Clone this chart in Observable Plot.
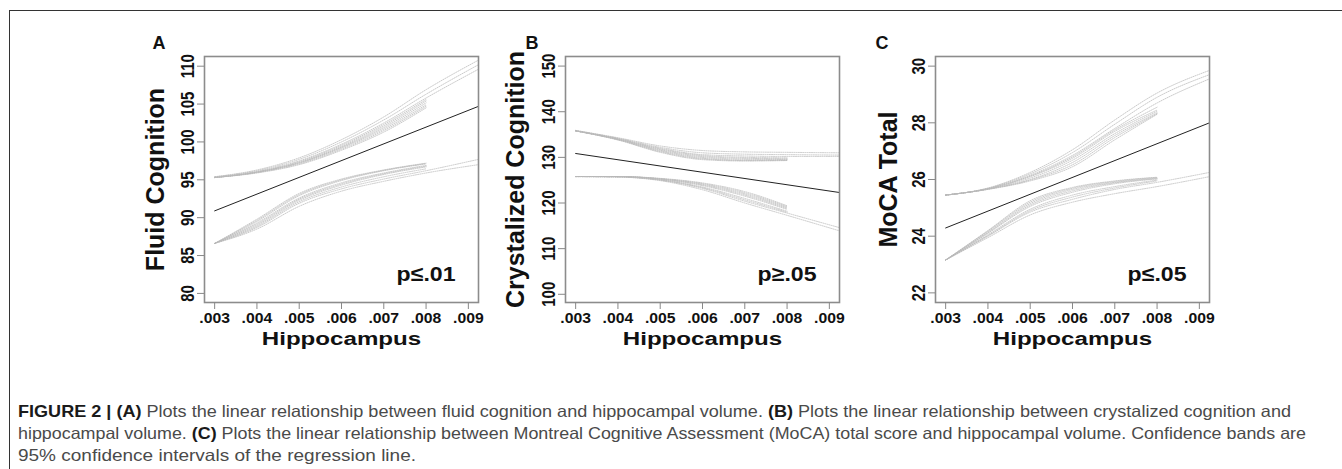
<!DOCTYPE html>
<html><head><meta charset="utf-8">
<script src="https://cdn.jsdelivr.net/npm/d3@7"></script>
<script src="https://cdn.jsdelivr.net/npm/@observablehq/plot@0.6"></script>
<style>
html,body{margin:0;padding:0;background:#fff;}
#fig{position:relative;width:1342px;height:469px;overflow:hidden;background:#fff;}
#frame{position:absolute;left:9px;top:10px;width:1400px;height:500px;border-left:1.5px solid #333;border-top:1.5px solid #333;}
.panel{position:absolute;top:0;}
.panel svg{overflow:visible;}
.panel svg text{font-weight:bold;}
#cap{position:absolute;left:0;top:390px;}
</style></head>
<body><div id="fig"><div id="frame"></div>
<svg id="cap" width="1342" height="79" font-family="'Liberation Sans',Arial,sans-serif" font-size="16.5" fill="#4a4a4a">
<text x="18" y="26.7" textLength="1273" lengthAdjust="spacingAndGlyphs"><tspan font-weight="bold" fill="#1a1a1a">FIGURE 2 | (A)</tspan> Plots the linear relationship between fluid cognition and hippocampal volume. <tspan font-weight="bold" fill="#1a1a1a">(B)</tspan> Plots the linear relationship between crystalized cognition and</text>
<text x="18" y="48.7" textLength="1288" lengthAdjust="spacingAndGlyphs">hippocampal volume. <tspan font-weight="bold" fill="#1a1a1a">(C)</tspan> Plots the linear relationship between Montreal Cognitive Assessment (MoCA) total score and hippocampal volume. Confidence bands are</text>
<text x="18" y="71" textLength="398" lengthAdjust="spacingAndGlyphs">95% confidence intervals of the regression line.</text>
</svg>
</div>
<script>
// ---- data ----
const xTicks = [0.003, 0.004, 0.005, 0.006, 0.007, 0.008, 0.009];
const xDomain = [0.00276, 0.00924];
const ciX = [0.003, 0.004, 0.005, 0.006, 0.007, 0.008, 0.00924];
const fitX = [0.003, 0.00924];

const letters = ["A", "B", "C"];
const yTitles = ["Fluid Cognition", "Crystalized Cognition", "MoCA Total"];
const pLabels = ["p≤.01", "p≥.05", "p≤.05"];
const xTitle = "Hippocampus";

const yTicksA = [80, 85, 90, 95, 100, 105, 110];
const yTicksB = [100, 110, 120, 130, 140, 150];
const yTicksC = [22, 24, 26, 28, 30];
const yDomA = [78.8, 111.28];
const yDomB = [98.2, 152.1];
const yDomC = [21.66, 30.34];

const fitA = [90.9, 104.7];
const fitB = [130.85, 122.3];
const fitC = [24.29, 28.0];

const upperA = [
  [95.4, 96.3, 97.9, 100.3, 103.3, 106.9, 110.8],
  [95.4, 96.2, 97.7, 100.0, 102.9, 106.3, 110.2],
  [95.3, 96.1, 97.5, 99.7, 102.5, 105.8, 109.6],
  [95.3, 96.05, 97.4, 99.55, 102.3, 105.6],
  [95.3, 96.0, 97.3, 99.4, 102.1, 105.4],
  [95.3, 96.0, 97.25, 99.3, 101.9, 105.15],
  [95.3, 96.0, 97.2, 99.2, 101.7, 104.9],
  [95.3, 95.95, 97.1, 99.05, 101.5, 104.7],
  [95.3, 95.9, 97.0, 98.9, 101.3, 104.5]
];
const lowerA = [
  [86.6, 88.5, 91.5, 93.5, 94.8, 95.9, 97.0],
  [86.6, 88.7, 91.9, 93.8, 95.1, 96.2, 97.7],
  [86.6, 88.85, 92.1, 94.05, 95.4, 96.45],
  [86.6, 89.0, 92.3, 94.3, 95.7, 96.7],
  [86.6, 89.15, 92.45, 94.45, 95.8, 96.8],
  [86.6, 89.3, 92.6, 94.6, 95.9, 96.9],
  [86.6, 89.5, 92.9, 94.9, 96.2, 97.1],
  [86.6, 89.65, 93.05, 95.0, 96.25, 97.15],
  [86.6, 89.8, 93.2, 95.1, 96.3, 97.2]
];
const upperB = [
  [135.9, 134.3, 132.5, 131.5, 131.2, 131.1, 131.0],
  [135.9, 134.2, 132.2, 131.0, 130.7, 130.6, 130.5],
  [135.8, 134.1, 132.0, 130.6, 130.3, 130.2, 130.2],
  [135.8, 134.05, 131.85, 130.4, 130.0, 129.9],
  [135.8, 134.0, 131.7, 130.2, 129.8, 129.7],
  [135.8, 133.95, 131.55, 130.0, 129.6, 129.55],
  [135.8, 133.9, 131.4, 129.8, 129.4, 129.4],
  [135.8, 133.85, 131.25, 129.65, 129.3, 129.35],
  [135.8, 133.8, 131.1, 129.5, 129.2, 129.3]
];
const lowerB = [
  [125.8, 125.7, 124.9, 122.9, 120.0, 117.3, 113.9],
  [125.8, 125.7, 125.0, 123.2, 120.4, 117.8, 114.6],
  [125.8, 125.75, 125.05, 123.35, 120.7, 118.0],
  [125.8, 125.8, 125.1, 123.5, 121.0, 118.2],
  [125.8, 125.8, 125.2, 123.8, 121.5, 118.6],
  [125.8, 125.8, 125.25, 123.95, 121.75, 118.8],
  [125.8, 125.8, 125.3, 124.1, 122.0, 119.0],
  [125.8, 125.8, 125.35, 124.25, 122.25, 119.2],
  [125.8, 125.8, 125.4, 124.4, 122.5, 119.4]
];
const upperC = [
  [25.45, 25.70, 26.25, 27.05, 28.10, 29.05, 29.85],
  [25.45, 25.69, 26.20, 26.95, 27.95, 28.90, 29.70],
  [25.45, 25.68, 26.15, 26.85, 27.80, 28.70, 29.55],
  [25.45, 25.675, 26.12, 26.80, 27.75, 28.55],
  [25.45, 25.67, 26.10, 26.75, 27.70, 28.45],
  [25.45, 25.665, 26.05, 26.68, 27.62, 28.40],
  [25.45, 25.66, 26.00, 26.60, 27.55, 28.35],
  [25.45, 25.655, 25.98, 26.52, 27.48, 28.32],
  [25.45, 25.65, 25.95, 26.45, 27.40, 28.30]
];
const lowerC = [
  [23.16, 23.95, 24.75, 25.20, 25.50, 25.75, 26.10],
  [23.16, 24.00, 24.85, 25.30, 25.65, 25.90, 26.25],
  [23.16, 24.02, 24.90, 25.38, 25.70, 25.95],
  [23.16, 24.05, 24.95, 25.45, 25.75, 25.98],
  [23.16, 24.10, 25.05, 25.55, 25.85, 26.02],
  [23.16, 24.12, 25.10, 25.60, 25.88, 26.03],
  [23.16, 24.15, 25.15, 25.65, 25.90, 26.05],
  [23.16, 24.18, 25.20, 25.69, 25.93, 26.07],
  [23.16, 24.20, 25.25, 25.72, 25.95, 26.08]
];

// ---- build ----
const panels = [
  {left: 104, letter: letters[0], yTitle: yTitles[0], p: pLabels[0], yTicks: yTicksA, yDom: yDomA, fit: fitA, bands: [...upperA, ...lowerA], letterDx: -52, titleDx: -41},
  {left: 465, letter: letters[1], yTitle: yTitles[1], p: pLabels[1], yTicks: yTicksB, yDom: yDomB, fit: fitB, bands: [...upperB, ...lowerB], letterDx: -40, titleDx: -42},
  {left: 835, letter: letters[2], yTitle: yTitles[2], p: pLabels[2], yTicks: yTicksC, yDom: yDomC, fit: fitC, bands: [...upperC, ...lowerC], letterDx: -60, titleDx: -39}
];

function stretchOne(t, k) {
  const tr = t.getAttribute("transform");
  if (tr && /translate\(/.test(tr)) {
    t.setAttribute("transform", tr.replace(/(translate\([^)]*\))/, `$1 scale(${k},1)`));
  } else {
    const x = +(t.getAttribute("x") || 0), y = +(t.getAttribute("y") || 0);
    t.removeAttribute("x"); t.removeAttribute("y");
    t.setAttribute("transform", `translate(${x},${y}) scale(${k},1)` + (tr ? " " + tr : ""));
  }
}

const fig = document.getElementById("fig");
panels.forEach(P => {
  const ciRows = [];
  P.bands.forEach((ys, id) => ys.forEach((y, i) => ciRows.push({x: ciX[i], y, id})));
  const fitRows = P.fit.map((y, i) => ({x: fitX[i], y}));
  const svg = Plot.plot({
    width: 394, height: 360,
    marginLeft: 100, marginRight: 20, marginTop: 56, marginBottom: 58,
    style: {fontFamily: "'Liberation Sans', Arial, sans-serif", background: "transparent", color: "#111"},
    x: {domain: xDomain},
    y: {domain: P.yDom},
    marks: [
      Plot.line(ciRows, {x: "x", y: "y", z: "id", stroke: "#b8b8b8", strokeWidth: 0.75, strokeDasharray: "1,1.2", curve: "monotone-x"}),
      Plot.line(fitRows, {x: "x", y: "y", stroke: "#222", strokeWidth: 1}),
      Plot.frame({stroke: "#8c8c8c", strokeWidth: 1.6}),
      Plot.axisX({ticks: xTicks, tickFormat: d => d.toFixed(3).slice(1), tickSize: 7, tickPadding: 3, stroke: "#888", fill: "#111", label: null}),
      Plot.axisY({ticks: P.yTicks, tickSize: 7, tickPadding: 4, tickRotate: -90, textAnchor: "middle", lineAnchor: "bottom", stroke: "#888", fill: "#111", label: null}),
      Plot.text([P.yTitle], {frameAnchor: "left", dx: P.titleDx, rotate: -90, fontSize: 25, fontWeight: "bold", textAnchor: "middle", lineAnchor: "bottom", fill: "#111"}),
      Plot.text([xTitle], {frameAnchor: "bottom", dy: 42, fontSize: 19, fontWeight: "bold", textAnchor: "middle", lineAnchor: "bottom", fill: "#111"}),
      Plot.text([P.p], {frameAnchor: "bottom-right", dx: -23, dy: -22, fontSize: 21, fontWeight: "bold", textAnchor: "end", lineAnchor: "bottom", fill: "#111"}),
      Plot.text([P.letter], {frameAnchor: "top-left", dx: P.letterDx, dy: -8, fontSize: 18, fontWeight: "bold", textAnchor: "start", lineAnchor: "bottom", fill: "#111"})
    ]
  });
  svg.querySelectorAll("text").forEach(t => {
    const s = t.textContent.trim();
    let k = null, fs = null;
    if (/^\.\d{3}$/.test(s)) { k = 1.05; fs = 15; }
    else if (/^\d+$/.test(s)) { k = 1.2; fs = 15; }
    else if (s === xTitle) k = 1.27;
    else if (/^p/.test(s)) k = 1.1;
    if (fs) { t.setAttribute("font-size", fs); t.style.fontSize = fs + "px"; }
    if (k && k !== 1) stretchOne(t, k);
  });
  const div = document.createElement("div");
  div.className = "panel";
  div.style.left = P.left + "px";
  div.style.width = "394px";
  div.appendChild(svg);
  fig.appendChild(div);
});
</script>
</body></html>
